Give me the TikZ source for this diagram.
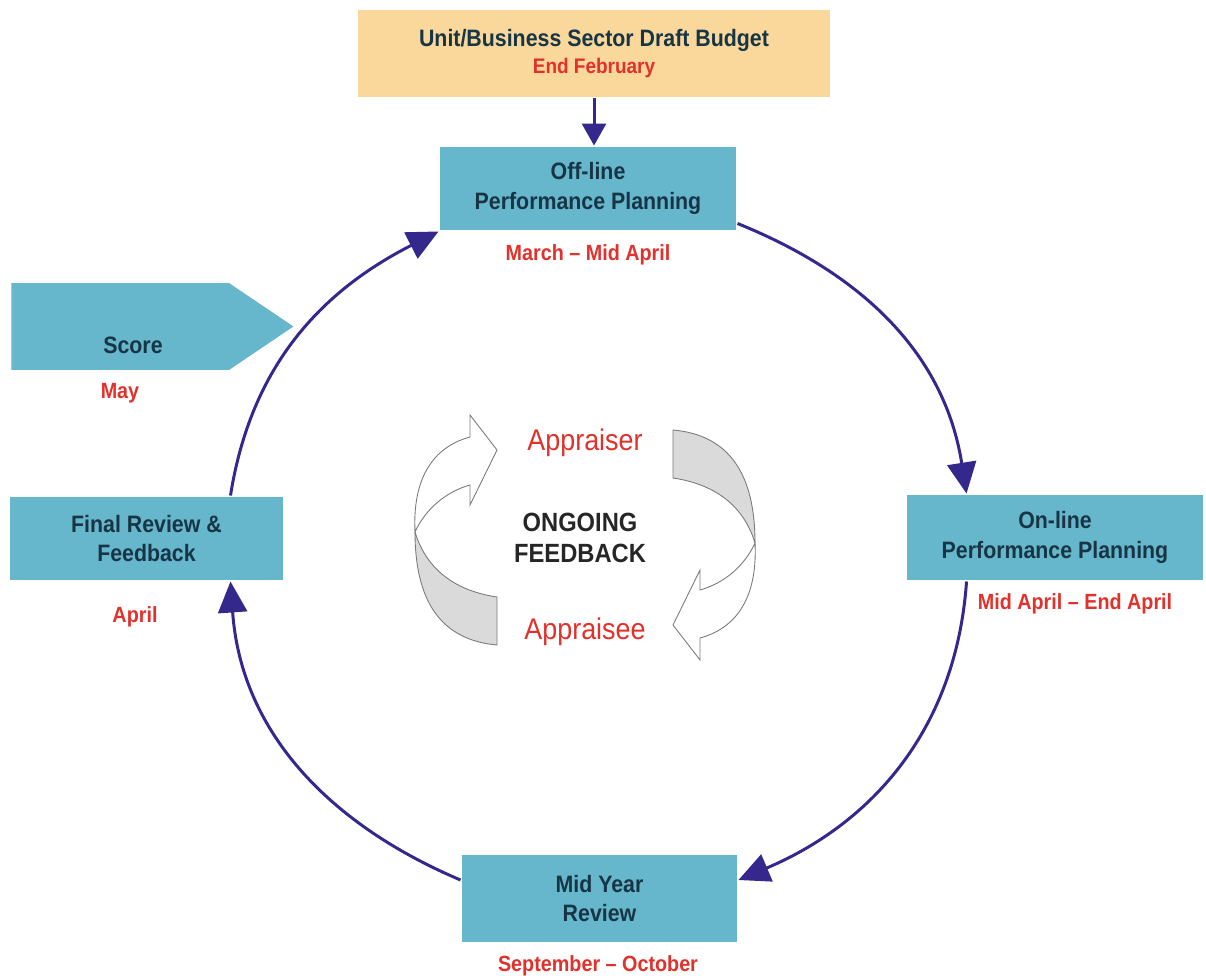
\documentclass[tikz,border=0pt]{standalone}
\usepackage{fontspec}
\setmainfont{Liberation Sans}[FakeStretch=0.9]
\usetikzlibrary{arrows.meta, positioning, shapes.symbols}
\definecolor{cteal}{HTML}{66B6CC}
\definecolor{cpeach}{HTML}{FAD89C}
\definecolor{cnavy}{HTML}{173545}
\definecolor{cred}{HTML}{E2302B}
\definecolor{cpurple}{HTML}{35288C}
\definecolor{cgrey}{HTML}{7A7A7A}
\definecolor{cshade}{HTML}{DADADA}
\tikzset{
  every picture/.style={font=\bfseries, line width=1.7pt},
  box/.style={fill=#1, text=cnavy, align=center, inner sep=0pt, font=\bfseries\fontsize{13.5}{17}\selectfont},
  box/.default=cteal,
  arcarrow/.style={-{Triangle[length=0.62cm, width=0.58cm]}, draw=cpurple, line width=1.7pt},
  date/.style={text=cred, font=\bfseries\fontsize{12.5}{14}\selectfont},
  big/.style={font=\fontsize{16}{18}\selectfont, align=center},
}

\begin{document}
\begin{tikzpicture}[x=0.02cm, y=0.02cm]
  \useasboundingbox (0,0) rectangle (1206,-976);
  % twisted ribbon arrow, origin at the twist: \feedbackarrow{x}{y}{rotation}
  \newcommand{\feedbackarrow}[3]{%
    \begin{scope}[shift={(#1,#2)}, rotate=#3, draw=cgrey, line width=0.5pt]
      \filldraw[fill=cshade] (0,0) .. controls (0,-68) and (25,-108) .. (82,-113)
        -- (82,-65) .. controls (35,-58) and (10,-33) .. cycle;
      \filldraw[fill=white] (0,0) .. controls (-3,62) and (25,87) .. (55,95)
        -- (55,117) -- (82,82) -- (55,27) -- (55,47) .. controls (30,40) and (10,22) .. cycle;
    \end{scope}}

  \node[box=cpeach, minimum width=9.46cm, minimum height=1.74cm] (budget) at (594,-53.5)
    {Unit/Business Sector Draft Budget\\[-2pt]{\color{cred}\fontsize{12}{13}\selectfont End February}};
  \node[box, minimum width=5.92cm, minimum height=1.66cm] (off) at (588,-188.5) {Off-line\\Performance Planning};
  \node[box, minimum width=5.92cm, minimum height=1.70cm] (on) at (1055,-537.5) {On-line\\Performance Planning};
  \node[box, minimum width=5.50cm, minimum height=1.74cm] (mid) at (599.5,-898.5) {Mid Year\\Review};
  \node[box, minimum width=5.46cm, minimum height=1.66cm] (fin) at (146.5,-538.5) {Final Review \&\\Feedback};
  \node[box, shape=signal, signal to=east, signal pointer angle=68, anchor=west,
    minimum width=5.64cm, minimum height=1.74cm] (score) at (10,-326.5) {};
  \node[box, fill=none] (scoretext) at (133,-345) {Score};

  \node[date] (offdate) at (588,-255) {March -- Mid April};
  \node[date] (maydate) at (120,-393) {May};
  \node[date] (ondate) at (1075,-604) {Mid April -- End April};
  \node[date] (middate) at (598,-966) {September -- October};
  \node[date] (findate) at (135,-617) {April};

  \draw[-{Triangle[length=0.44cm, width=0.48cm]}, draw=cpurple] (budget.south) -- (budget.south |- off.north);
  \draw[arcarrow] ([yshift=0.16cm]off.south east) to[out=-22, in=99] ([xshift=1.22cm]on.north west);
  \draw[arcarrow] ([xshift=1.22cm]on.south west) to[out=-94, in=23] ([yshift=0.37cm]mid.east);
  \draw[arcarrow] ([yshift=0.37cm]mid.west) to[out=157, in=-86] ([xshift=4.44cm]fin.south west);
  \draw[arcarrow] ([xshift=4.44cm]fin.north west) to[out=81, in=207] (off.south west);

  \feedbackarrow{415}{-532}{0}
  \feedbackarrow{755}{-543}{180}
  \node[big, text=cred, font=\mdseries\fontsize{17}{18}\selectfont] (appraiser) at (585,-443) {Appraiser};
  \node[big, text=black!85, font=\bfseries\fontsize{15}{17.5}\selectfont] (ongoing) at (580,-538) {ONGOING\\FEEDBACK};
  \node[big, text=cred, font=\mdseries\fontsize{17}{18}\selectfont] (appraisee) at (585,-632) {Appraisee};
\end{tikzpicture}
\end{document}
